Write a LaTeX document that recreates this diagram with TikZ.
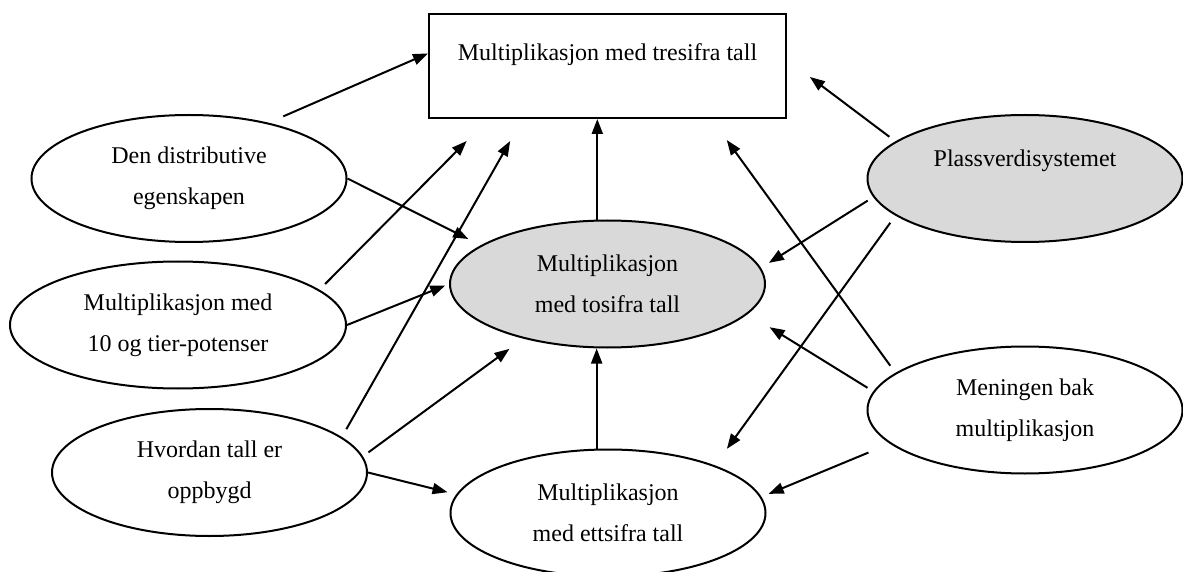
\documentclass[tikz,border=0pt]{standalone}
\usepackage{fontspec}
\setmainfont{Liberation Serif}
\usetikzlibrary{arrows.meta,shapes.geometric}

\begin{document}
\begin{tikzpicture}[x=0.5pt,y=-0.5pt,
  font=\fontsize{12}{20.5}\selectfont,
  every node/.style={inner sep=0pt,align=center},
  emne/.style={draw,ellipse,line width=1pt,minimum width=157.5pt,minimum height=63.5pt},
  fokus/.style={emne,fill=black!15},
  pil/.style={-{Triangle[length=7.5pt,width=5.5pt]},line width=1pt}]
\useasboundingbox (0,0) rectangle (1183,572);
\node[draw,line width=1pt,minimum width=178.5pt,minimum height=52pt,text height=8.5pt,text depth=13.5pt] (tre) at (607.5,66) {Multiplikasjon med tresifra tall};
\node[emne] (dist) at (189,178.5) {Den distributive\\egenskapen};
\node[emne,minimum width=168pt] (tier) at (178,325) {Multiplikasjon med\\10 og tier-potenser};
\node[emne] (hvor) at (209.5,472.5) {Hvordan tall er\\oppbygd};
\node[fokus] (to) at (607.5,284) {Multiplikasjon\\med tosifra tall};
\node[emne] (ett) at (608,513) {Multiplikasjon\\med ettsifra tall};
\node[fokus] (plass) at (1025,178.5) {Plassverdisystemet\\\mbox{}};
\node[emne] (men) at (1025,410) {Meningen bak\\multiplikasjon};
\draw[pil,shorten <=8pt] (dist.35) -- (tre.176.5);
\draw[pil,shorten >=7pt] (dist.east) -- (to.163);
\draw[pil,shorten <=4pt,shorten >=15.5pt] (tier.14) -- (tre.204);
\draw[pil,shorten >=2pt] (tier.east) -- (to.west);
\draw[pil,shorten <=4.5pt,shorten >=12.7pt] (hvor.15) -- (tre.212.4);
\draw[pil,shorten <=3.4pt,shorten >=8.6pt] (hvor.6) -- (to.213.5);
\draw[pil,shorten >=4.5pt] (hvor.east) -- (ett.173);
\draw[pil] (to.99.5) -- (to.99.5 |- tre.south);
\draw[pil] (ett.100) -- (ett.100 |- to.south);
\draw[pil,shorten <=3.8pt,shorten >=14.3pt] (plass.164) -- (tre.2.3);
\draw[pil,shorten <=3.3pt,shorten >=4.7pt] (plass.187) -- (to.6.5);
\draw[pil,shorten <=4.4pt,shorten >=10.2pt] (plass.196) -- (ett.24);
\draw[pil,shorten <=4.4pt,shorten >=13pt] (men.164.4) -- (tre.-27.2);
\draw[pil,shorten <=3.4pt,shorten >=12.7pt] (men.173) -- (to.-12.2);
\draw[pil,shorten <=11.6pt,shorten >=3.9pt] (men.194) -- (ett.6.4);
\end{tikzpicture}
\end{document}
